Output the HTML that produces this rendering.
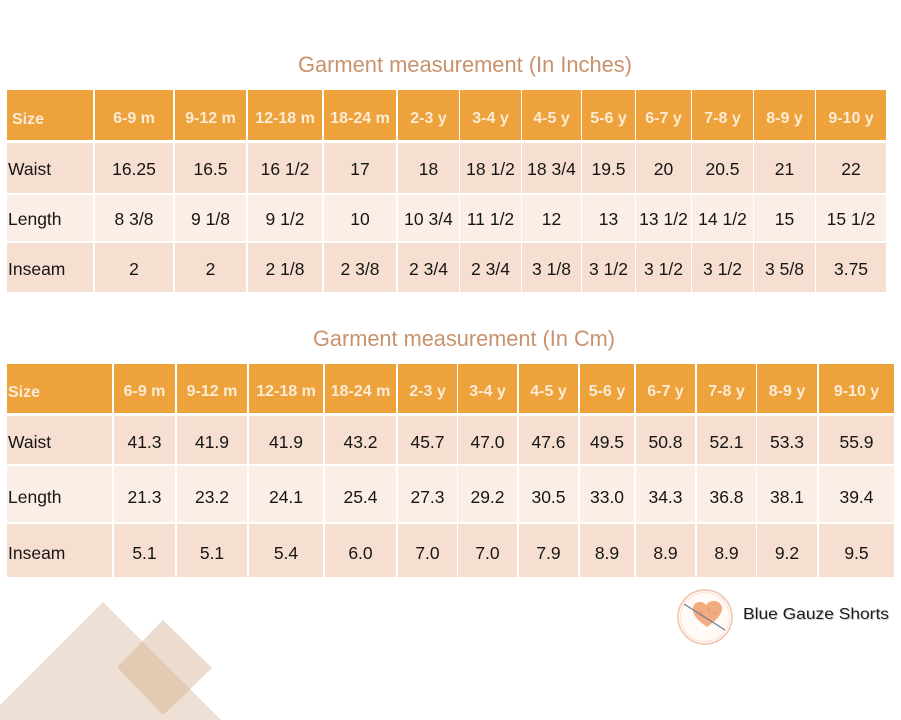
<!DOCTYPE html>
<html><head><meta charset="utf-8"><style>
html,body{margin:0;padding:0;background:#fff;}
svg{display:block;}
.t{font-family:"Liberation Sans",sans-serif;font-size:22px;fill:#c9926c;}
.h{font-family:"Liberation Sans",sans-serif;font-size:16px;font-weight:bold;fill:#fcebd6;text-anchor:middle;}
.hl{font-family:"Liberation Sans",sans-serif;font-size:16px;font-weight:bold;fill:#fcebd6;}
.d{font-family:"Liberation Sans",sans-serif;font-size:17.5px;fill:#161616;text-anchor:middle;}
.dl{font-family:"Liberation Sans",sans-serif;font-size:17.5px;fill:#161616;}
</style></head><body>
<svg width="901" height="720" viewBox="0 0 901 720" xmlns="http://www.w3.org/2000/svg">
<rect width="901" height="720" fill="#fff"/>

<!-- decorations -->
<polygon points="0,705 103,602 221,720 0,720" fill="#eee0d4"/>
<polygon points="163,620 212,668 163,715 117,667" fill="#ecdccf"/>
<polygon points="117,667 142.5,641.5 190.5,689.5 163,715" fill="#e3cab3"/>

<!-- TOP TABLE -->
<text class="t" x="298" y="72" textLength="334" lengthAdjust="spacingAndGlyphs">Garment measurement (In Inches)</text>
<g fill="#eda23b">
<rect x="7" y="90" width="86" height="50"/><rect x="95" y="90" width="78" height="50"/><rect x="175" y="90" width="71" height="50"/><rect x="248" y="90" width="74" height="50"/><rect x="324" y="90" width="72" height="50"/><rect x="398" y="90" width="61" height="50"/><rect x="460" y="90" width="61" height="50"/><rect x="522" y="90" width="59" height="50"/><rect x="582" y="90" width="53" height="50"/><rect x="636" y="90" width="55" height="50"/><rect x="692" y="90" width="61" height="50"/><rect x="754" y="90" width="61" height="50"/><rect x="816" y="90" width="70" height="50"/>
</g>
<g fill="#f6dfd0">
<rect x="7" y="143" width="86" height="50"/><rect x="95" y="143" width="78" height="50"/><rect x="175" y="143" width="71" height="50"/><rect x="248" y="143" width="74" height="50"/><rect x="324" y="143" width="72" height="50"/><rect x="398" y="143" width="61" height="50"/><rect x="460" y="143" width="61" height="50"/><rect x="522" y="143" width="59" height="50"/><rect x="582" y="143" width="53" height="50"/><rect x="636" y="143" width="55" height="50"/><rect x="692" y="143" width="61" height="50"/><rect x="754" y="143" width="61" height="50"/><rect x="816" y="143" width="70" height="50"/>
<rect x="7" y="243" width="86" height="49"/><rect x="95" y="243" width="78" height="49"/><rect x="175" y="243" width="71" height="49"/><rect x="248" y="243" width="74" height="49"/><rect x="324" y="243" width="72" height="49"/><rect x="398" y="243" width="61" height="49"/><rect x="460" y="243" width="61" height="49"/><rect x="522" y="243" width="59" height="49"/><rect x="582" y="243" width="53" height="49"/><rect x="636" y="243" width="55" height="49"/><rect x="692" y="243" width="61" height="49"/><rect x="754" y="243" width="61" height="49"/><rect x="816" y="243" width="70" height="49"/>
</g>
<g fill="#fbeee7">
<rect x="7" y="195" width="86" height="46"/><rect x="95" y="195" width="78" height="46"/><rect x="175" y="195" width="71" height="46"/><rect x="248" y="195" width="74" height="46"/><rect x="324" y="195" width="72" height="46"/><rect x="398" y="195" width="61" height="46"/><rect x="460" y="195" width="61" height="46"/><rect x="522" y="195" width="59" height="46"/><rect x="582" y="195" width="53" height="46"/><rect x="636" y="195" width="55" height="46"/><rect x="692" y="195" width="61" height="46"/><rect x="754" y="195" width="61" height="46"/><rect x="816" y="195" width="70" height="46"/>
</g>
<text class="hl" x="12" y="124">Size</text>
<text class="h" x="134" y="123">6-9 m</text><text class="h" x="210.5" y="123">9-12 m</text><text class="h" x="285" y="123">12-18 m</text><text class="h" x="360" y="123">18-24 m</text><text class="h" x="428.5" y="123">2-3 y</text><text class="h" x="490.5" y="123">3-4 y</text><text class="h" x="551.5" y="123">4-5 y</text><text class="h" x="608.5" y="123">5-6 y</text><text class="h" x="663.5" y="123">6-7 y</text><text class="h" x="722.5" y="123">7-8 y</text><text class="h" x="784.5" y="123">8-9 y</text><text class="h" x="851" y="123">9-10 y</text>

<text class="dl" x="8" y="175">Waist</text>
<text class="d" x="134" y="175">16.25</text><text class="d" x="210.5" y="175">16.5</text><text class="d" x="285" y="175">16 1/2</text><text class="d" x="360" y="175">17</text><text class="d" x="428.5" y="175">18</text><text class="d" x="490.5" y="175">18 1/2</text><text class="d" x="551.5" y="175">18 3/4</text><text class="d" x="608.5" y="175">19.5</text><text class="d" x="663.5" y="175">20</text><text class="d" x="722.5" y="175">20.5</text><text class="d" x="784.5" y="175">21</text><text class="d" x="851" y="175">22</text>

<text class="dl" x="8" y="225">Length</text>
<text class="d" x="134" y="225">8 3/8</text><text class="d" x="210.5" y="225">9 1/8</text><text class="d" x="285" y="225">9 1/2</text><text class="d" x="360" y="225">10</text><text class="d" x="428.5" y="225">10 3/4</text><text class="d" x="490.5" y="225">11 1/2</text><text class="d" x="551.5" y="225">12</text><text class="d" x="608.5" y="225">13</text><text class="d" x="663.5" y="225">13 1/2</text><text class="d" x="722.5" y="225">14 1/2</text><text class="d" x="784.5" y="225">15</text><text class="d" x="851" y="225">15 1/2</text>

<text class="dl" x="8" y="275">Inseam</text>
<text class="d" x="134" y="275">2</text><text class="d" x="210.5" y="275">2</text><text class="d" x="285" y="275">2 1/8</text><text class="d" x="360" y="275">2 3/8</text><text class="d" x="428.5" y="275">2 3/4</text><text class="d" x="490.5" y="275">2 3/4</text><text class="d" x="551.5" y="275">3 1/8</text><text class="d" x="608.5" y="275">3 1/2</text><text class="d" x="663.5" y="275">3 1/2</text><text class="d" x="722.5" y="275">3 1/2</text><text class="d" x="784.5" y="275">3 5/8</text><text class="d" x="851" y="275">3.75</text>

<!-- BOTTOM TABLE -->
<text class="t" x="313" y="346" textLength="302" lengthAdjust="spacingAndGlyphs">Garment measurement (In Cm)</text>
<g fill="#eda23b">
<rect x="7" y="364" width="105" height="49"/><rect x="114" y="364" width="61" height="49"/><rect x="177" y="364" width="70" height="49"/><rect x="249" y="364" width="74" height="49"/><rect x="325" y="364" width="71" height="49"/><rect x="398" y="364" width="59" height="49"/><rect x="458" y="364" width="59" height="49"/><rect x="519" y="364" width="59" height="49"/><rect x="580" y="364" width="54" height="49"/><rect x="636" y="364" width="59" height="49"/><rect x="697" y="364" width="59" height="49"/><rect x="757" y="364" width="60" height="49"/><rect x="819" y="364" width="75" height="49"/>
</g>
<g fill="#f6dfd0">
<rect x="7" y="416" width="105" height="48"/><rect x="114" y="416" width="61" height="48"/><rect x="177" y="416" width="70" height="48"/><rect x="249" y="416" width="74" height="48"/><rect x="325" y="416" width="71" height="48"/><rect x="398" y="416" width="59" height="48"/><rect x="458" y="416" width="59" height="48"/><rect x="519" y="416" width="59" height="48"/><rect x="580" y="416" width="54" height="48"/><rect x="636" y="416" width="59" height="48"/><rect x="697" y="416" width="59" height="48"/><rect x="757" y="416" width="60" height="48"/><rect x="819" y="416" width="75" height="48"/>
<rect x="7" y="524" width="105" height="53"/><rect x="114" y="524" width="61" height="53"/><rect x="177" y="524" width="70" height="53"/><rect x="249" y="524" width="74" height="53"/><rect x="325" y="524" width="71" height="53"/><rect x="398" y="524" width="59" height="53"/><rect x="458" y="524" width="59" height="53"/><rect x="519" y="524" width="59" height="53"/><rect x="580" y="524" width="54" height="53"/><rect x="636" y="524" width="59" height="53"/><rect x="697" y="524" width="59" height="53"/><rect x="757" y="524" width="60" height="53"/><rect x="819" y="524" width="75" height="53"/>
</g>
<g fill="#fbeee7">
<rect x="7" y="466" width="105" height="56"/><rect x="114" y="466" width="61" height="56"/><rect x="177" y="466" width="70" height="56"/><rect x="249" y="466" width="74" height="56"/><rect x="325" y="466" width="71" height="56"/><rect x="398" y="466" width="59" height="56"/><rect x="458" y="466" width="59" height="56"/><rect x="519" y="466" width="59" height="56"/><rect x="580" y="466" width="54" height="56"/><rect x="636" y="466" width="59" height="56"/><rect x="697" y="466" width="59" height="56"/><rect x="757" y="466" width="60" height="56"/><rect x="819" y="466" width="75" height="56"/>
</g>
<text class="hl" x="8" y="397">Size</text>
<text class="h" x="144.5" y="396">6-9 m</text><text class="h" x="212" y="396">9-12 m</text><text class="h" x="286" y="396">12-18 m</text><text class="h" x="360.5" y="396">18-24 m</text><text class="h" x="427.5" y="396">2-3 y</text><text class="h" x="487.5" y="396">3-4 y</text><text class="h" x="548.5" y="396">4-5 y</text><text class="h" x="607" y="396">5-6 y</text><text class="h" x="665.5" y="396">6-7 y</text><text class="h" x="726.5" y="396">7-8 y</text><text class="h" x="787" y="396">8-9 y</text><text class="h" x="856.5" y="396">9-10 y</text>

<text class="dl" x="8" y="448">Waist</text>
<text class="d" x="144.5" y="448">41.3</text><text class="d" x="212" y="448">41.9</text><text class="d" x="286" y="448">41.9</text><text class="d" x="360.5" y="448">43.2</text><text class="d" x="427.5" y="448">45.7</text><text class="d" x="487.5" y="448">47.0</text><text class="d" x="548.5" y="448">47.6</text><text class="d" x="607" y="448">49.5</text><text class="d" x="665.5" y="448">50.8</text><text class="d" x="726.5" y="448">52.1</text><text class="d" x="787" y="448">53.3</text><text class="d" x="856.5" y="448">55.9</text>

<text class="dl" x="8" y="503">Length</text>
<text class="d" x="144.5" y="503">21.3</text><text class="d" x="212" y="503">23.2</text><text class="d" x="286" y="503">24.1</text><text class="d" x="360.5" y="503">25.4</text><text class="d" x="427.5" y="503">27.3</text><text class="d" x="487.5" y="503">29.2</text><text class="d" x="548.5" y="503">30.5</text><text class="d" x="607" y="503">33.0</text><text class="d" x="665.5" y="503">34.3</text><text class="d" x="726.5" y="503">36.8</text><text class="d" x="787" y="503">38.1</text><text class="d" x="856.5" y="503">39.4</text>

<text class="dl" x="8" y="559">Inseam</text>
<text class="d" x="144.5" y="559">5.1</text><text class="d" x="212" y="559">5.1</text><text class="d" x="286" y="559">5.4</text><text class="d" x="360.5" y="559">6.0</text><text class="d" x="427.5" y="559">7.0</text><text class="d" x="487.5" y="559">7.0</text><text class="d" x="548.5" y="559">7.9</text><text class="d" x="607" y="559">8.9</text><text class="d" x="665.5" y="559">8.9</text><text class="d" x="726.5" y="559">8.9</text><text class="d" x="787" y="559">9.2</text><text class="d" x="856.5" y="559">9.5</text>

<!-- LOGO -->
<circle cx="705" cy="617" r="27" fill="#fffaf6" stroke="#f0c3ab" stroke-width="1.5"/>
<circle cx="705" cy="617" r="24.5" fill="none" stroke="#f7dccd" stroke-width="0.8"/>
<path d="M707,627 C700,622 692,616 693,608 C694,601 702,600 706,605 C710,599 720,600 722,607 C723,615 714,622 707,627 Z" fill="#f2ac80"/>
<path d="M699,611 l4,3 M708,608 l2,5 M713,614 l4,-2" stroke="#e59868" stroke-width="1.2" fill="none"/>
<line x1="684" y1="604" x2="725" y2="630" stroke="#6d7f93" stroke-width="1.3"/>
<text x="744" y="620" font-family="Liberation Sans, sans-serif" font-size="16" fill="#9a9a9a" opacity="0.5" textLength="146" lengthAdjust="spacingAndGlyphs">Blue Gauze Shorts</text>
<text x="743" y="619" font-family="Liberation Sans, sans-serif" font-size="16" fill="#1e1e1e" textLength="146" lengthAdjust="spacingAndGlyphs">Blue Gauze Shorts</text>
</svg>
</body></html>
